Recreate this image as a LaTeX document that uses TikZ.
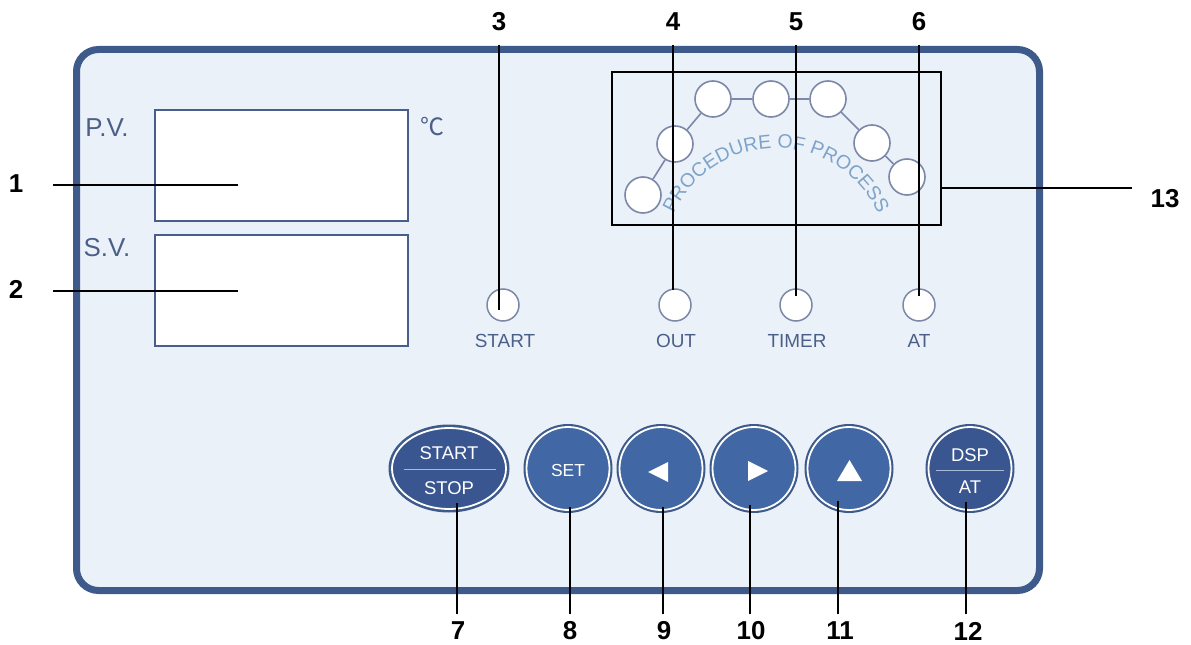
\documentclass[tikz,border=0pt]{standalone}
\usepackage{fontspec}
\setmainfont{Liberation Sans}
\newfontfamily\cjkfont{Noto Sans CJK SC}
\usetikzlibrary{decorations.text,shapes.geometric}
\definecolor{panelbg}{HTML}{EAF1F9}
\definecolor{panelline}{HTML}{3E5A8A}
\definecolor{boxline}{HTML}{4A5E8E}
\definecolor{labtext}{HTML}{4C5F88}
\definecolor{ledline}{HTML}{7D88A8}
\definecolor{proctext}{HTML}{7EA3C9}
\definecolor{btnblue}{HTML}{4267A5}
\definecolor{btndark}{HTML}{3A5690}
\definecolor{divline}{HTML}{A9B9D6}
\tikzset{
  numlab/.style={inner sep=0pt, font=\fontsize{26}{26}\selectfont\bfseries, text=black},
  leader/.style={draw=black, line width=1.8bp},
  paneltext/.style={inner sep=0pt, text=labtext, font=\fontsize{26}{26}\selectfont},
  indtext/.style={inner sep=0pt, text=labtext, font=\fontsize{19}{19}\selectfont},
  ind/.style={circle, draw=ledline, line width=1.5bp, fill=white, minimum size=32bp, inner sep=0pt},
  proc/.style={circle, draw=ledline, line width=1.6bp, fill=white, minimum size=36bp, inner sep=0pt},
  btnouter/.style={circle, fill=panelline, minimum size=89bp, inner sep=0pt},
  btninner/.style={circle, fill=#1, draw=white, line width=1.8bp, minimum size=83bp, inner sep=0pt},
  btntext/.style={inner sep=0pt, text=white, font=\fontsize{18.5}{18.5}\selectfont},
  tri/.style={fill=white, draw=none}
}
\begin{document}
\begin{tikzpicture}[x=1bp,y=1bp]
\useasboundingbox (0,0) rectangle (1191,-645);
% panel
\draw[panelline, line width=7bp, fill=panelbg, rounded corners=22bp] (76.5,-49.5) rectangle (1039.5,-590.5);
% displays
\node[draw=boxline, line width=2bp, fill=white, minimum width=253bp, minimum height=111bp, inner sep=0pt] (pv) at (281.5,-166) {};
\node[draw=boxline, line width=2bp, fill=white, minimum width=253bp, minimum height=111bp, inner sep=0pt] (sv) at (281.5,-290.5) {};
\node[paneltext] (pvlab) at (107,-128) {P.V.};
\node[paneltext] (svlab) at (107,-248) {S.V.};
\node[inner sep=0pt, text=labtext, font=\cjkfont\fontsize{24}{24}\selectfont] (degc) at (432,-127) {℃};
% procedure box
\node[draw=black, line width=1.2bp, minimum width=329bp, minimum height=153bp, inner sep=0pt] (procbox) at (776.5,-148.5) {};
\path[decorate, decoration={text along path, text align=center,
  text={|\fontsize{19.5}{19.5}\selectfont\color{proctext}|PROCEDURE OF PROCESS}}]
  (776,-260) ++(170:112) arc[start angle=170, end angle=10, radius=112];
\node[proc] (p1) at (643,-195) {};
\node[proc] (p2) at (675,-144) {};
\node[proc] (p3) at (713,-99) {};
\node[proc] (p4) at (771,-99) {};
\node[proc] (p5) at (828,-99) {};
\node[proc] (p6) at (872,-143) {};
\node[proc] (p7) at (907,-177) {};
\draw[ledline, line width=1.6bp] (p1) -- (p2) -- (p3) -- (p4) -- (p5) -- (p6) -- (p7);
% indicators
\node[ind] (i3) at (503,-305) {};
\node[ind] (i4) at (675,-305) {};
\node[ind] (i5) at (796,-305) {};
\node[ind] (i6) at (919,-305) {};
\node[indtext] (t3) at (505,-341) {START};
\node[indtext] (t4) at (676,-341) {OUT};
\node[indtext] (t5) at (797,-341) {TIMER};
\node[indtext] (t6) at (919,-341) {AT};
% buttons
\node[ellipse, fill=panelline, minimum width=121bp, minimum height=88bp, inner sep=0pt] (b7o) at (449,-468.5) {};
\node[ellipse, fill=btndark, draw=white, line width=1.8bp, minimum width=114bp, minimum height=81bp, inner sep=0pt] (b7) at (449,-468.5) {};
\draw[divline, line width=0.9bp] (404,-469) -- (496,-469);
\node[btntext] (b7a) at (449,-453) {START};
\node[btntext] (b7b) at (449,-488) {STOP};

\node[btnouter] (b8o) at (568,-468.5) {};
\node[btninner=btnblue] (b8) at (568,-468.5) {};
\node[btntext, font=\fontsize{17.5}{17.5}\selectfont] (b8t) at (568,-470) {SET};

\node[btnouter] (b9o) at (661,-468.5) {};
\node[btninner=btnblue] (b9) at (661,-468.5) {};
\fill[tri] (648,-472) -- (668,-462) -- (668,-482) -- cycle;

\node[btnouter] (b10o) at (754,-468.5) {};
\node[btninner=btnblue] (b10) at (754,-468.5) {};
\fill[tri] (768,-471) -- (748,-461) -- (748,-481) -- cycle;

\node[btnouter] (b11o) at (849,-468.5) {};
\node[btninner=btnblue] (b11) at (849,-468.5) {};
\fill[tri] (849.5,-460) -- (862,-481) -- (837,-481) -- cycle;

\node[btnouter] (b12o) at (970,-468.5) {};
\node[btninner=btndark] (b12) at (970,-468.5) {};
\draw[divline, line width=0.9bp] (936,-470) -- (1004,-470);
\node[btntext] (b12a) at (970,-455) {DSP};
\node[btntext] (b12b) at (970,-487) {AT};

% number labels
\node[numlab] (n1) at (16,-184) {1};
\node[numlab] (n2) at (16,-289) {2};
\node[numlab] (n3) at (499,-22) {3};
\node[numlab] (n4) at (673,-22) {4};
\node[numlab] (n5) at (796,-22) {5};
\node[numlab] (n6) at (919,-22) {6};
\node[numlab] (n7) at (458,-631) {7};
\node[numlab] (n8) at (570,-631) {8};
\node[numlab] (n9) at (664,-631) {9};
\node[numlab] (n10) at (751,-631) {10};
\node[numlab] (n11) at (840,-631) {11};
\node[numlab] (n12) at (968,-631) {12};
\node[numlab] (n13) at (1165,-199) {13};

% leader endpoints
\coordinate (l1a) at (53,-185);   \coordinate (l1b) at (238,-185);
\coordinate (l2a) at (53,-291);   \coordinate (l2b) at (238,-291);
\coordinate (l3a) at (499,-45);   \coordinate (l3b) at (499,-310);
\coordinate (l4a) at (673,-45);   \coordinate (l4b) at (673,-290);
\coordinate (l5a) at (796,-45);   \coordinate (l5b) at (796,-296);
\coordinate (l6a) at (919,-45);   \coordinate (l6b) at (919,-296);
\coordinate (l7a) at (457,-503);  \coordinate (l7b) at (457,-614);
\coordinate (l8a) at (570,-507);  \coordinate (l8b) at (570,-614);
\coordinate (l9a) at (663,-507);  \coordinate (l9b) at (663,-614);
\coordinate (l10a) at (750,-505); \coordinate (l10b) at (750,-614);
\coordinate (l11a) at (838,-501); \coordinate (l11b) at (838,-614);
\coordinate (l12a) at (966,-502); \coordinate (l12b) at (966,-614);
\coordinate (l13a) at (941,-188); \coordinate (l13b) at (1132,-188);
\foreach \k in {1,...,13} { \draw[leader] (l\k a) -- (l\k b); }
\end{tikzpicture}
\end{document}
